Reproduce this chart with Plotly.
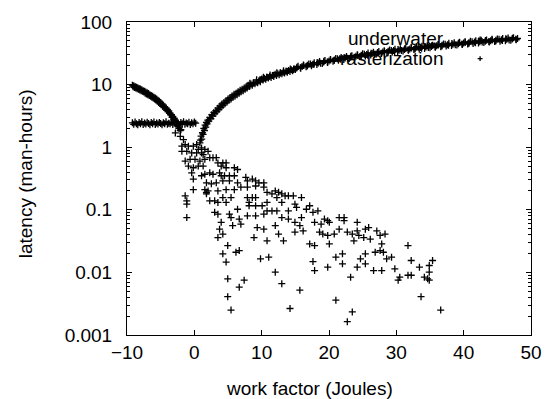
import plotly.graph_objects as go

# ---- data ----
# decreasing band (x from -9.2 to -2)
dec_x = [-9.2,-9.1,-9.0,-8.9,-8.8,-8.7,-8.6,-8.5,-8.4,-8.3,-8.2,-8.1,-8.0,-7.9,-7.8,-7.7,-7.6,-7.5,-7.4,-7.3,
         -7.2,-7.1,-7.0,-6.9,-6.8,-6.7,-6.6,-6.5,-6.4,-6.3,-6.2,-6.1,-6.0,-5.9,-5.8,-5.7,-5.6,-5.5,-5.4,-5.3,
         -5.2,-5.1,-5.0,-4.9,-4.8,-4.7,-4.6,-4.5,-4.4,-4.3,-4.2,-4.1,-4.0,-3.9,-3.8,-3.7,-3.6,-3.5,-3.4,-3.3,
         -3.2,-3.1,-3.0,-2.9,-2.8,-2.7,-2.6,-2.5,-2.4,-2.3,-2.2,-2.1,-2.0]
dec_y = [9.8,9.2,9.6,9.0,9.3,8.8,9.1,8.6,8.9,8.4,8.7,8.2,8.5,8.0,8.3,7.8,8.0,7.6,7.8,7.3,
         7.6,7.1,7.4,6.9,7.2,6.7,6.9,6.5,6.7,6.3,6.5,6.1,6.3,5.9,6.1,5.7,5.9,5.4,5.6,5.2,
         5.4,5.0,5.2,4.8,4.9,4.5,4.7,4.3,4.4,4.1,4.2,3.9,4.0,3.7,3.8,3.5,3.5,3.3,3.3,3.0,
         3.1,2.8,2.9,2.6,2.7,2.4,2.5,2.2,2.3,2.0,2.1,1.85,1.9]

# flat band (about 2.4)
flat_x = [-9.2,-9.0,-8.8,-8.6,-8.4,-8.2,-8.0,-7.8,-7.6,-7.4,-7.2,-7.0,-6.8,-6.6,-6.4,-6.2,-6.0,-5.8,-5.6,-5.4,
          -5.2,-5.0,-4.8,-4.6,-4.4,-4.2,-4.0,-3.8,-3.6,-3.4,-3.2,-3.0,-2.8,-2.6,-2.4,-2.2,-2.0,-1.8,-1.6,-1.4,
          -1.2,-1.0,-0.8,-0.6,-0.4,-0.2,0.0,0.2]
flat_y = [2.45,2.32,2.52,2.38,2.28,2.48,2.36,2.55,2.30,2.44,2.34,2.50,2.40,2.29,2.47,2.37,2.53,2.31,2.43,2.35,
          2.49,2.39,2.28,2.46,2.36,2.54,2.32,2.42,2.38,2.50,2.30,2.45,2.35,2.52,2.40,2.29,2.47,2.37,2.55,2.33,
          2.44,2.38,2.50,2.31,2.46,2.36,2.52,2.42]

# rising band (x from 0.9 to 48)
rise_x = [0.9,1.0,1.1,1.2,1.3,1.4,1.5,1.6,1.7,1.8,1.9,2.0,2.15,2.3,2.45,2.6,2.75,2.9,3.05,3.2,
          3.35,3.5,3.65,3.8,3.95,4.1,4.25,4.4,4.55,4.7,4.85,5.0,5.15,5.3,5.45,5.6,5.75,5.9,6.05,6.2,
          6.35,6.5,6.65,6.8,6.95,7.1,7.25,7.4,7.55,7.7,7.85,8.0,8.2,8.4,8.6,8.8,9.0,9.2,9.4,9.6,
          9.8,10.0,10.2,10.4,10.6,10.8,11.0,11.2,11.4,11.6,11.8,12.0,12.2,12.4,12.6,12.8,13.0,13.2,13.4,13.6,
          13.8,14.0,14.2,14.4,14.6,14.8,15.0,15.4,15.8,16.2,16.6,17.0,17.4,17.8,18.2,18.6,19.0,19.4,19.8,20.2,
          20.6,21.0,21.4,21.8,22.2,22.6,23.0,23.4,23.8,24.2,24.6,25.0,25.4,25.8,26.2,26.6,27.0,27.4,27.8,28.2,
          28.6,29.0,29.4,29.8,30.2,30.6,31.0,31.4,31.8,32.2,32.6,33.0,33.4,33.8,34.2,34.6,35.0,35.4,35.8,36.2,
          36.6,37.0,37.4,37.8,38.2,38.6,39.0,39.4,39.8,40.2,40.6,41.0,41.4,41.8,42.2,42.6,43.0,43.4,43.8,44.2,
          44.6,45.0,45.4,45.8,46.2,46.6,47.0,47.4,47.8,
          15.2,16.0,16.8,17.6,18.4,19.2,20.0,20.8,21.6,22.4,23.2,24.0,24.8,25.6,26.4,27.2,28.0,28.8,29.6,30.4,
          31.2,32.0,32.8,33.6,34.4,35.2,36.0,36.8,37.6,38.4,39.2,40.0,40.8,41.6,42.4,43.2,44.0,44.8,45.6,46.4,
          47.2,48.0,
          8.25,8.75,9.25,9.75,10.25,10.75,11.25,11.75,12.25,12.75,13.25,13.75,14.25,14.75,15.25,15.75,16.25,16.75,17.25,17.75,
          18.25,18.75,19.25,19.75,20.25,20.75,21.25,21.75,22.25,22.75,23.25,23.75,24.25,24.75,25.25,25.75,26.25,26.75,27.25,27.75,
          28.25,28.75,29.25,29.75,30.25,30.75,31.25,31.75,32.25,32.75,33.25,33.75,34.25,34.75,35.25,35.75,36.25,36.75,37.25,37.75,
          38.25,38.75,39.25,39.75,40.25,40.75,41.25,41.75,42.25,42.75,43.25,43.75,44.25,44.75,45.25,45.75,46.25,46.75,47.25,47.75]
rise_y = [1.3,1.5,1.35,1.7,1.6,2.0,1.85,2.25,2.1,2.5,2.35,2.7,2.6,3.0,2.85,3.3,3.15,3.6,3.45,3.85,
          3.7,4.2,4.0,4.55,4.35,4.9,4.65,5.2,4.95,5.5,5.25,5.9,5.6,6.2,5.9,6.6,6.3,7.0,6.6,7.3,
          6.9,7.7,7.3,8.1,7.7,8.4,8.0,8.8,8.4,9.2,8.8,9.8,9.3,10.2,9.8,10.6,10.3,11.0,10.7,11.5,
          11.1,12.3,11.8,12.6,12.2,13.1,12.7,13.5,13.0,14.0,13.5,14.6,14.0,14.9,14.4,15.4,14.9,15.8,15.3,16.3,
          15.8,16.8,16.2,17.3,16.7,17.9,17.5,19.6,18.3,20.5,19.2,21.4,20.0,22.4,20.9,23.4,21.8,24.2,22.6,25.2,
          23.5,26.2,24.4,27.1,25.2,28.1,26.1,29.0,27.0,30.0,27.9,31.0,28.7,32.0,29.6,32.9,30.5,33.9,31.4,34.8,
          32.3,35.8,33.1,36.8,33.6,37.3,34.5,38.2,35.3,39.1,36.2,40.0,37.0,41.0,37.8,41.9,38.7,42.7,39.5,43.7,
          40.4,44.6,41.2,45.6,42.0,46.5,42.9,47.3,43.7,48.3,44.5,49.2,45.4,50.1,46.1,51.0,47.0,51.8,47.8,52.8,
          48.6,53.6,49.4,54.4,50.2,55.4,51.0,56.2,51.9,
          18.5,19.4,20.3,21.2,22.1,23.0,23.9,24.8,25.8,26.7,27.6,28.5,29.4,30.3,31.3,32.2,33.1,34.0,34.9,35.4,
          36.3,37.2,38.1,39.0,39.8,40.7,41.6,42.5,43.4,44.2,45.1,46.0,46.8,47.7,48.5,49.4,50.2,51.1,51.9,52.8,
          53.6,54.5,
          10.5,10.6,11.9,11.9,13.1,13.1,14.3,14.1,15.5,15.3,16.6,16.4,17.8,17.5,19.0,18.6,20.2,19.8,21.3,20.9,
          22.5,21.9,23.7,23.0,24.8,24.2,25.9,25.3,27.2,26.3,28.3,27.4,29.4,28.5,30.5,29.5,31.7,30.6,32.7,31.7,
          33.9,32.8,35.1,33.8,36.2,35.0,37.3,36.1,38.5,37.1,39.6,38.1,40.7,39.2,41.8,40.3,42.9,41.3,44.0,42.4,
          45.2,43.5,46.3,44.6,47.5,45.6,48.5,46.6,49.6,47.7,50.6,48.7,51.8,49.7,52.8,50.7,53.9,51.8,54.9,52.8]

# scattered points
sc_x = [-2.82,-2.09,-1.61,-1.85,-1.36,-0.88,-0.15,0.34,0.58,0.83,1.07,1.56,2.04,-1.85,-1.12,-0.39,0.34,1.07,1.31,-1.36,
        -0.63,0.10,0.83,1.56,2.29,2.77,3.26,-0.88,-0.15,0.58,1.31,3.50,4.23,4.72,3.99,4.72,5.94,6.42,-0.39,1.07,
        1.56,2.29,2.77,3.75,3.99,4.48,5.21,5.94,-0.15,1.80,2.53,3.26,4.23,5.21,6.42,7.64,7.88,8.61,9.10,9.59,
        10.32,7.88,9.10,-0.15,1.56,2.04,3.50,4.72,5.94,6.91,10.32,10.80,12.02,12.51,12.99,13.48,13.97,14.70,11.53,12.26,
        15.91,-1.36,1.80,1.80,4.23,5.45,7.88,8.61,9.10,-1.12,-1.12,2.29,3.02,3.50,4.72,8.13,8.13,9.10,10.07,10.80,
        12.99,14.94,15.18,17.13,16.64,18.35,17.62,3.02,3.50,5.21,6.42,7.88,9.10,10.32,10.80,11.53,12.26,13.97,15.91,-1.12,
        5.45,6.67,3.99,5.69,6.91,9.34,10.32,12.02,12.99,13.97,14.94,15.67,14.94,16.16,17.86,18.83,19.32,20.05,19.81,21.51,
        22.24,22.24,3.75,4.23,3.50,8.86,13.24,10.80,12.51,18.59,19.08,19.81,20.78,21.51,22.72,23.46,24.19,24.19,25.40,25.89,
        27.10,24.43,23.70,25.16,26.13,28.32,27.59,27.83,27.59,26.86,28.08,28.56,29.29,25.40,25.40,24.19,24.67,26.62,27.83,29.78,
        31.73,32.21,33.43,34.89,35.38,34.89,34.65,34.16,34.89,32.21,31.73,30.51,30.27,22.00,21.02,22.00,23.21,19.81,17.86,17.62,
        17.13,17.86,20.05,4.96,4.23,6.18,6.67,9.83,11.05,4.72,4.96,7.40,6.67,12.02,12.99,15.67,4.96,5.45,14.21,21.02,
        23.46,22.72,33.67,36.59]
sc_y = [1.69,1.49,1.32,1.04,1.10,1.04,1.04,1.10,0.92,1.17,0.975,0.92,0.86,0.86,0.86,0.81,0.81,0.81,0.76,0.60,
        0.64,0.64,0.60,0.64,0.68,0.68,0.68,0.50,0.47,0.50,0.50,0.56,0.56,0.56,0.50,0.47,0.47,0.44,0.39,0.35,
        0.37,0.39,0.37,0.39,0.35,0.35,0.35,0.35,0.31,0.27,0.26,0.27,0.29,0.29,0.27,0.33,0.29,0.31,0.29,0.27,
        0.27,0.23,0.24,0.21,0.21,0.20,0.20,0.21,0.21,0.23,0.23,0.19,0.20,0.19,0.18,0.167,0.167,0.167,0.18,0.157,
        0.157,0.167,0.18,0.19,0.157,0.157,0.157,0.157,0.157,0.139,0.123,0.139,0.139,0.131,0.131,0.131,0.116,0.116,0.116,0.131,
        0.131,0.123,0.109,0.116,0.102,0.096,0.091,0.091,0.085,0.085,0.102,0.080,0.080,0.085,0.096,0.096,0.096,0.096,0.075,0.075,
        0.075,0.071,0.063,0.056,0.059,0.052,0.049,0.056,0.075,0.071,0.063,0.056,0.044,0.046,0.063,0.059,0.071,0.063,0.067,0.075,
        0.075,0.067,0.049,0.041,0.036,0.036,0.032,0.032,0.041,0.044,0.041,0.039,0.041,0.049,0.044,0.041,0.046,0.063,0.049,0.052,
        0.046,0.039,0.032,0.036,0.034,0.041,0.039,0.0285,0.0223,0.021,0.021,0.0165,0.0175,0.0198,0.0137,0.0121,0.0165,0.0107,0.0107,0.0114,
        0.0268,0.0155,0.0121,0.0129,0.0155,0.0101,0.0079,0.0084,0.0075,0.0090,0.0090,0.0084,0.0075,0.0198,0.0175,0.0137,0.0084,0.0121,0.0107,0.0149,
        0.0285,0.0268,0.0285,0.0268,0.0198,0.021,0.0223,0.0165,0.0175,0.0146,0.0079,0.0075,0.0058,0.0101,0.0066,0.0052,0.0041,0.0025,0.00265,0.0036,
        0.00234,0.00163,0.0041,0.0025]

series_names = ["underwater", "rasterization"]
x_ticks = [-10, 0, 10, 20, 30, 40, 50]
y_ticks = [0.001, 0.01, 0.1, 1, 10, 100]
y_tick_text = ["0.001", "0.01", "0.1", "1", "10", "100"]

FONT = "Liberation Sans, Arial, Helvetica, sans-serif"
FS = 19
marker = dict(symbol="cross-thin", size=5, color="black", line=dict(color="black", width=1.3))

fig = go.Figure()
fig.add_trace(go.Scatter(x=dec_x + sc_x, y=dec_y + sc_y, mode="markers",
                         marker=marker, name=series_names[0], showlegend=False))
fig.add_trace(go.Scatter(x=flat_x + rise_x, y=flat_y + rise_y, mode="markers",
                         marker=marker, name=series_names[1], showlegend=False))

minor_vals = [m * 10 ** e for e in range(-3, 2) for m in range(2, 10)]

fig.update_layout(
    width=554, height=399,
    margin=dict(l=127, r=15, t=20, b=64),
    paper_bgcolor="white", plot_bgcolor="white",
    font=dict(family=FONT, size=FS, color="black"),
    xaxis=dict(range=[-10, 50], tickmode="array", tickvals=x_ticks,
               ticks="inside", ticklen=5, tickcolor="black",
               showline=True, linecolor="black", linewidth=1, mirror="allticks",
               showgrid=False, zeroline=False, tickfont=dict(size=FS)),
    yaxis=dict(type="log", range=[-3, 2], tickmode="array", tickvals=y_ticks, ticktext=y_tick_text,
               ticks="inside", ticklen=5, tickcolor="black",
               showline=True, linecolor="black", linewidth=1, mirror="allticks",
               showgrid=False, zeroline=False, tickfont=dict(size=FS), ticklabelstandoff=10,
               minor=dict(tickmode="array", tickvals=minor_vals, ticks="inside", ticklen=3,
                          tickcolor="black", showgrid=False)),
    showlegend=False,
)

# axis titles
fig.add_annotation(text="work factor (Joules)", xref="paper", yref="paper", x=0.451, y=-0.171,
                   showarrow=False, font=dict(size=FS), xanchor="center", yanchor="middle")
fig.add_annotation(text="latency (man-hours)", xref="paper", yref="paper", x=-0.252, y=0.514,
                   showarrow=False, font=dict(size=FS), textangle=-90, xanchor="center", yanchor="middle")

# gnuplot-style key: right-aligned text with sample to the right
key_y = [0.946, 0.883]
for name, ky in zip(series_names, key_y):
    fig.add_annotation(text=name, xref="paper", yref="paper", x=0.79, y=ky,
                       showarrow=False, font=dict(size=FS), xanchor="right", yanchor="middle")
    dx, dy = 2.5 / 412, 2.5 / 315
    fig.add_shape(type="line", xref="paper", yref="paper", x0=0.874 - dx, x1=0.874 + dx, y0=ky, y1=ky,
                  line=dict(color="black", width=1.3))
    fig.add_shape(type="line", xref="paper", yref="paper", x0=0.874, x1=0.874, y0=ky - dy, y1=ky + dy,
                  line=dict(color="black", width=1.3))

fig.write_html("out.html")
